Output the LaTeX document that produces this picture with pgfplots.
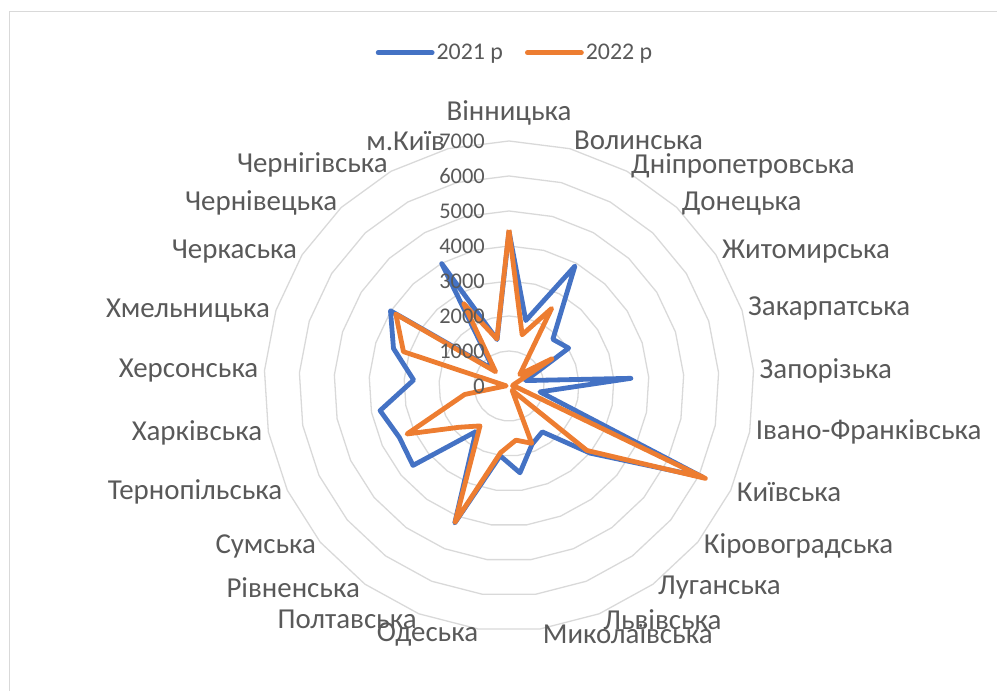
\documentclass[border=0pt]{standalone}
\usepackage{fontspec}
\setmainfont{Carlito}
\usepackage{pgfplots}
\usepackage{pgfplotstable}
\usepgfplotslibrary{polar}
\pgfplotsset{compat=1.18}
\definecolor{c21}{HTML}{4472C4}
\definecolor{c22}{HTML}{ED7D31}
\definecolor{grd}{HTML}{D9D9D9}
\definecolor{txt}{HTML}{595959}

\pgfplotstableread{
angle  v21   v22
90     4420  4460
75.6   1930  1510
61.2   3910  2530
46.8   1830  450
32.4   2020  1450
18     500   150
3.6    3490  100
-10.8  900   250
-25.2  6100  6200
-39.6  3010  2890
-54    1620  150
-68.4  1790  1760
-82.8  2500  1560
-97.2  2010  1920
-111.6 4210  4180
-126   1610  1410
-140.4 3560  1850
-154.8 3460  3220
-169.2 3750  1290
-183.6 2730  80
-198   3470  3170
-212.4 4010  3830
-226.8 640   560
-241.2 3990  2680
-255.6 1370  1390
-270   4420  4460
}\data

\begin{document}
\begin{tikzpicture}[x=1bp,y=1bp]
\useasboundingbox (0,0) rectangle (997,691);
\draw[grd, line width=1.2bp] (9.5,0) -- (9.5,679.5) -- (997,679.5);
\begin{polaraxis}[
  at={(509bp,305bp)}, anchor=center,
  scale only axis, width=490bp, height=490bp,
  xmin=0, xmax=360, ymin=0, ymax=7000,
  axis line style={draw=none},
  xtick=\empty, ytick=\empty,
  clip=false,
  legend style={at={(0.5,1.18)}, anchor=center, xshift=6bp, draw=none, fill=none,
    legend columns=2, font=\fontsize{24}{28}\selectfont, text=txt,
    /tikz/every even column/.append style={column sep=20bp}},
  legend image code/.code={\draw[#1, line cap=round] (0bp,0bp) -- (54bp,0bp);},
]
\pgfplotsinvokeforeach{1000,2000,...,7000}{
  \addplot[grd, line width=1.3bp, forget plot] table[x=angle, y expr=#1]{\data};
}
\addplot[c21, line width=4.8bp, line join=round, no markers] table[x=angle, y=v21]{\data};
\addlegendentry{2021 р}
\addplot[c22, line width=4.8bp, line join=round, no markers] table[x=angle, y=v22]{\data};
\addlegendentry{2022 р}

\pgfplotsinvokeforeach{0,1000,2000,3000,4000,5000,6000,7000}{
  \node[anchor=east, xshift=-24bp, text=txt, font=\fontsize{22.5}{26}\selectfont, inner sep=0pt] at (axis cs:90,#1) {#1};
}

\begin{scope}[every node/.style={text=txt, font=\fontsize{29}{33}\selectfont, inner sep=0pt}]
\node[anchor=center, yshift=28bp] at (axis cs:90,7000) {Вінницька};
\node[anchor=west, xshift=4bp, yshift=8bp] at (axis cs:75.6,7000) {Волинська};
\node[anchor=west, xshift=4bp, yshift=5bp] at (axis cs:61.2,7000) {Дніпропетровська};
\node[anchor=west, xshift=5bp, yshift=4bp] at (axis cs:46.8,7000) {Донецька};
\node[anchor=west, xshift=6bp, yshift=3bp] at (axis cs:32.4,7000) {Житомирська};
\node[anchor=west, xshift=6bp, yshift=2bp] at (axis cs:18,7000) {Закарпатська};
\node[anchor=west, xshift=6bp] at (axis cs:3.6,7000) {Запорізька};
\node[anchor=west, xshift=6bp] at (axis cs:-10.8,7000) {Івано-Франківська};
\node[anchor=west, xshift=6bp, yshift=-2bp] at (axis cs:-25.2,7000) {Київська};
\node[anchor=west, xshift=6bp, yshift=-4bp] at (axis cs:-39.6,7000) {Кіровоградська};
\node[anchor=west, xshift=5bp, yshift=-3bp] at (axis cs:-54,7000) {Луганська};
\node[anchor=west, xshift=4bp, yshift=-6bp] at (axis cs:-68.4,7000) {Львівська};
\node[anchor=west, xshift=3bp, yshift=-5bp] at (axis cs:-82.8,7000) {Миколаївська};
\node[anchor=east, xshift=0bp, yshift=-5bp] at (axis cs:-97.2,7000) {Одеська};
\node[anchor=east, xshift=-2bp, yshift=-6bp] at (axis cs:-111.6,7000) {Полтавська};
\node[anchor=east, xshift=-5bp, yshift=-3bp] at (axis cs:-126,7000) {Рівненська};
\node[anchor=east, xshift=-4bp, yshift=-4bp] at (axis cs:-140.4,7000) {Сумська};
\node[anchor=east, xshift=-5bp, yshift=-2bp] at (axis cs:-154.8,7000) {Тернопільська};
\node[anchor=east, xshift=-6bp, yshift=-1bp] at (axis cs:-169.2,7000) {Харківська};
\node[anchor=east, xshift=-6bp] at (axis cs:-183.6,7000) {Херсонська};
\node[anchor=east, xshift=-6bp] at (axis cs:-198,7000) {Хмельницька};
\node[anchor=east, xshift=-5bp, yshift=3bp] at (axis cs:-212.4,7000) {Черкаська};
\node[anchor=east, xshift=-4bp, yshift=4bp] at (axis cs:-226.8,7000) {Чернівецька};
\node[anchor=east, xshift=-3bp, yshift=6bp] at (axis cs:-241.2,7000) {Чернігівська};
\node[anchor=east, xshift=-3bp, yshift=8bp] at (axis cs:-255.6,7000) {м.Київ};
\end{scope}
\end{polaraxis}
\end{tikzpicture}
\end{document}
